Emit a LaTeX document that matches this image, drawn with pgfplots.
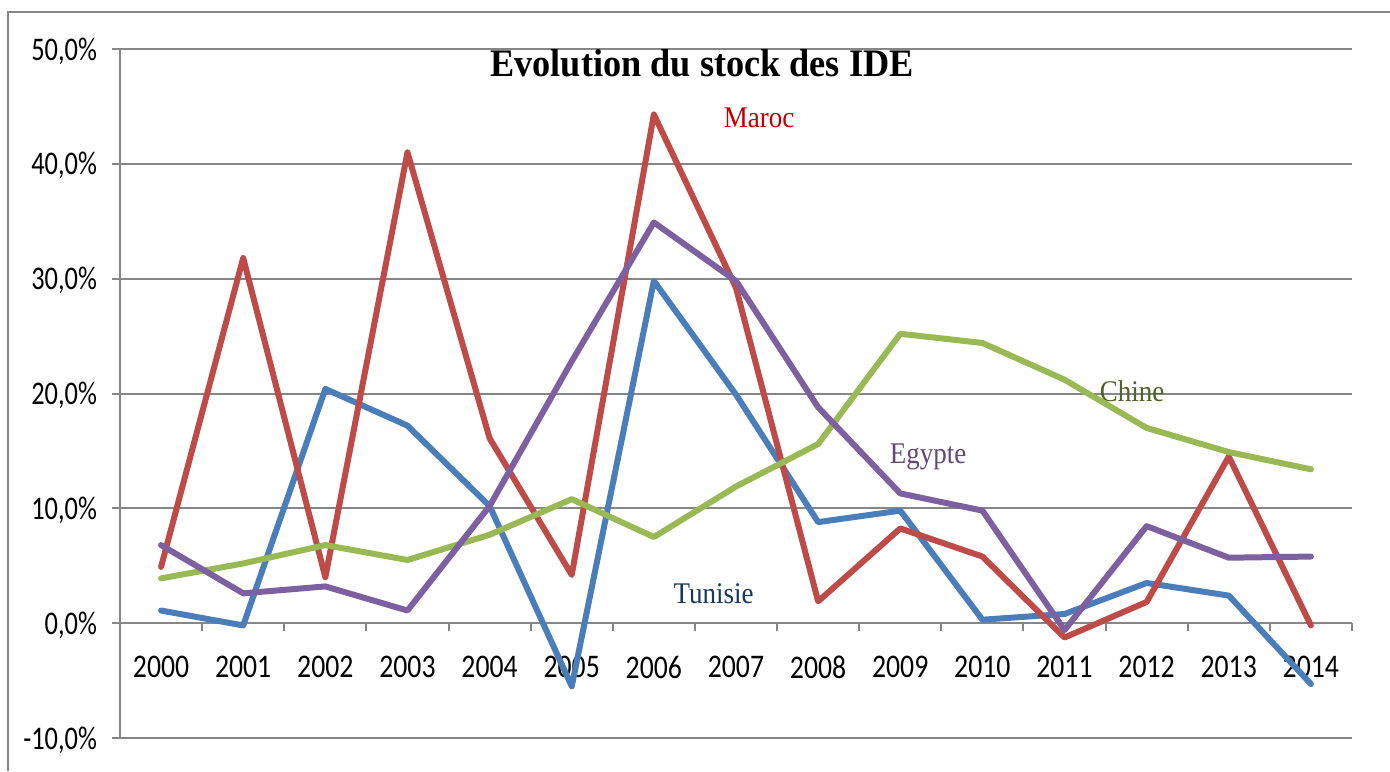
\documentclass[border=0pt]{standalone}
\usepackage{pgfplots}
\pgfplotsset{compat=1.18}
\usepackage{fontspec}
\setmainfont{Liberation Serif}
\newfontfamily\tickfont{Carlito}
\newcommand\tl[1]{\scalebox{0.84}[1]{#1}}
\newcommand\yl[1]{\scalebox{0.8}[1]{#1}}
\definecolor{gridgray}{HTML}{868686}
\definecolor{cTun}{HTML}{4A7EBB}
\definecolor{cMar}{HTML}{BE4B48}
\definecolor{cChi}{HTML}{98B954}
\definecolor{cEgy}{HTML}{7D60A0}
\definecolor{tMar}{HTML}{C00000}
\definecolor{tChi}{HTML}{4F6228}
\definecolor{tEgy}{HTML}{5F497A}
\definecolor{tTun}{HTML}{17375E}
\pgfplotstableread{
year tun mar chi egy
2000 1.1 4.9 3.9 6.8
2001 -0.2 31.8 5.2 2.6
2002 20.4 4.0 6.8 3.2
2003 17.2 41.0 5.5 1.1
2004 10.2 16.1 7.7 10.2
2005 -5.5 4.2 10.8 22.8
2006 29.8 44.3 7.5 34.9
2007 19.9 29.2 11.9 29.8
2008 8.8 1.9 15.6 18.8
2009 9.8 8.25 25.2 11.3
2010 0.3 5.8 24.4 9.8
2011 0.8 -1.25 21.2 -0.6
2012 3.5 1.85 17.0 8.45
2013 2.4 14.5 14.9 5.7
2014 -5.3 -0.2 13.4 5.8
}\datatable
\begin{document}
\begin{tikzpicture}
\path[use as bounding box] (0,0) rectangle (695pt,385.5pt);
\draw[gridgray, line width=1pt] (4pt,0) -- (4pt,379.5pt) -- (695pt,379.5pt);
\begin{axis}[
  anchor=south west, at={(60pt,16.5pt)},
  scale only axis, width=616pt, height=344.5pt,
  xmin=1999.5, xmax=2014.5, ymin=-10, ymax=50,
  axis x line=middle, axis y line=left,
  axis line style={-, draw=gridgray, line width=1pt},
  ytick={-10,0,10,20,30,40,50},
  yticklabels={\yl{-10,0\%},\yl{0,0\%},\yl{10,0\%},\yl{20,0\%},\yl{30,0\%},\yl{40,0\%},\yl{50,0\%}},
  ymajorgrids, grid style={draw=gridgray, line width=1pt},
  ytick align=outside, ytick style={draw=gridgray, line width=1pt},
  major tick length=4pt,
  xtick={2000,...,2014},
  xticklabels={\tl{2000},\tl{2001},\tl{2002},\tl{2003},\tl{2004},\tl{2005},\tl{2006},\tl{2007},\tl{2008},\tl{2009},\tl{2010},\tl{2011},\tl{2012},\tl{2013},\tl{2014}},
  xtick style={draw=none},
  extra x ticks={1999.5,2000.5,...,2014.5},
  extra x tick labels={},
  extra x tick style={grid=none, xtick style={draw=gridgray, line width=1pt}, xtick align=outside},
  tick label style={font=\tickfont\fontsize{16.5pt}{18pt}\selectfont, text=black},
  xticklabel style={yshift=-11pt},
  yticklabel style={xshift=-4pt, yshift=-1pt},
  clip=false,
]
\addplot[cTun, line width=3pt, line join=round, line cap=round] table[x=year,y=tun] {\datatable};
\addplot[cMar, line width=3pt, line join=round, line cap=round] table[x=year,y=mar] {\datatable};
\addplot[cChi, line width=3pt, line join=round, line cap=round] table[x=year,y=chi] {\datatable};
\addplot[cEgy, line width=3pt, line join=round, line cap=round] table[x=year,y=egy] {\datatable};
\end{axis}
\node[anchor=base, inner sep=0] at (351pt,347pt) {\scalebox{0.93}[1]{\fontsize{19.5pt}{22pt}\selectfont\bfseries Evolution du stock des IDE}};
\node[anchor=base, inner sep=0, text=tMar] at (379.5pt,321.8pt) {\scalebox{0.9}[1]{\fontsize{15pt}{17pt}\selectfont Maroc}};
\node[anchor=base, inner sep=0, text=tChi] at (566pt,184.5pt) {\scalebox{0.9}[1]{\fontsize{15pt}{17pt}\selectfont Chine}};
\node[anchor=base, inner sep=0, text=tEgy] at (464pt,153.8pt) {\scalebox{0.9}[1]{\fontsize{15pt}{17pt}\selectfont Egypte}};
\node[anchor=base, inner sep=0, text=tTun] at (356.8pt,84pt) {\scalebox{0.9}[1]{\fontsize{15pt}{17pt}\selectfont Tunisie}};
\end{tikzpicture}
\end{document}
